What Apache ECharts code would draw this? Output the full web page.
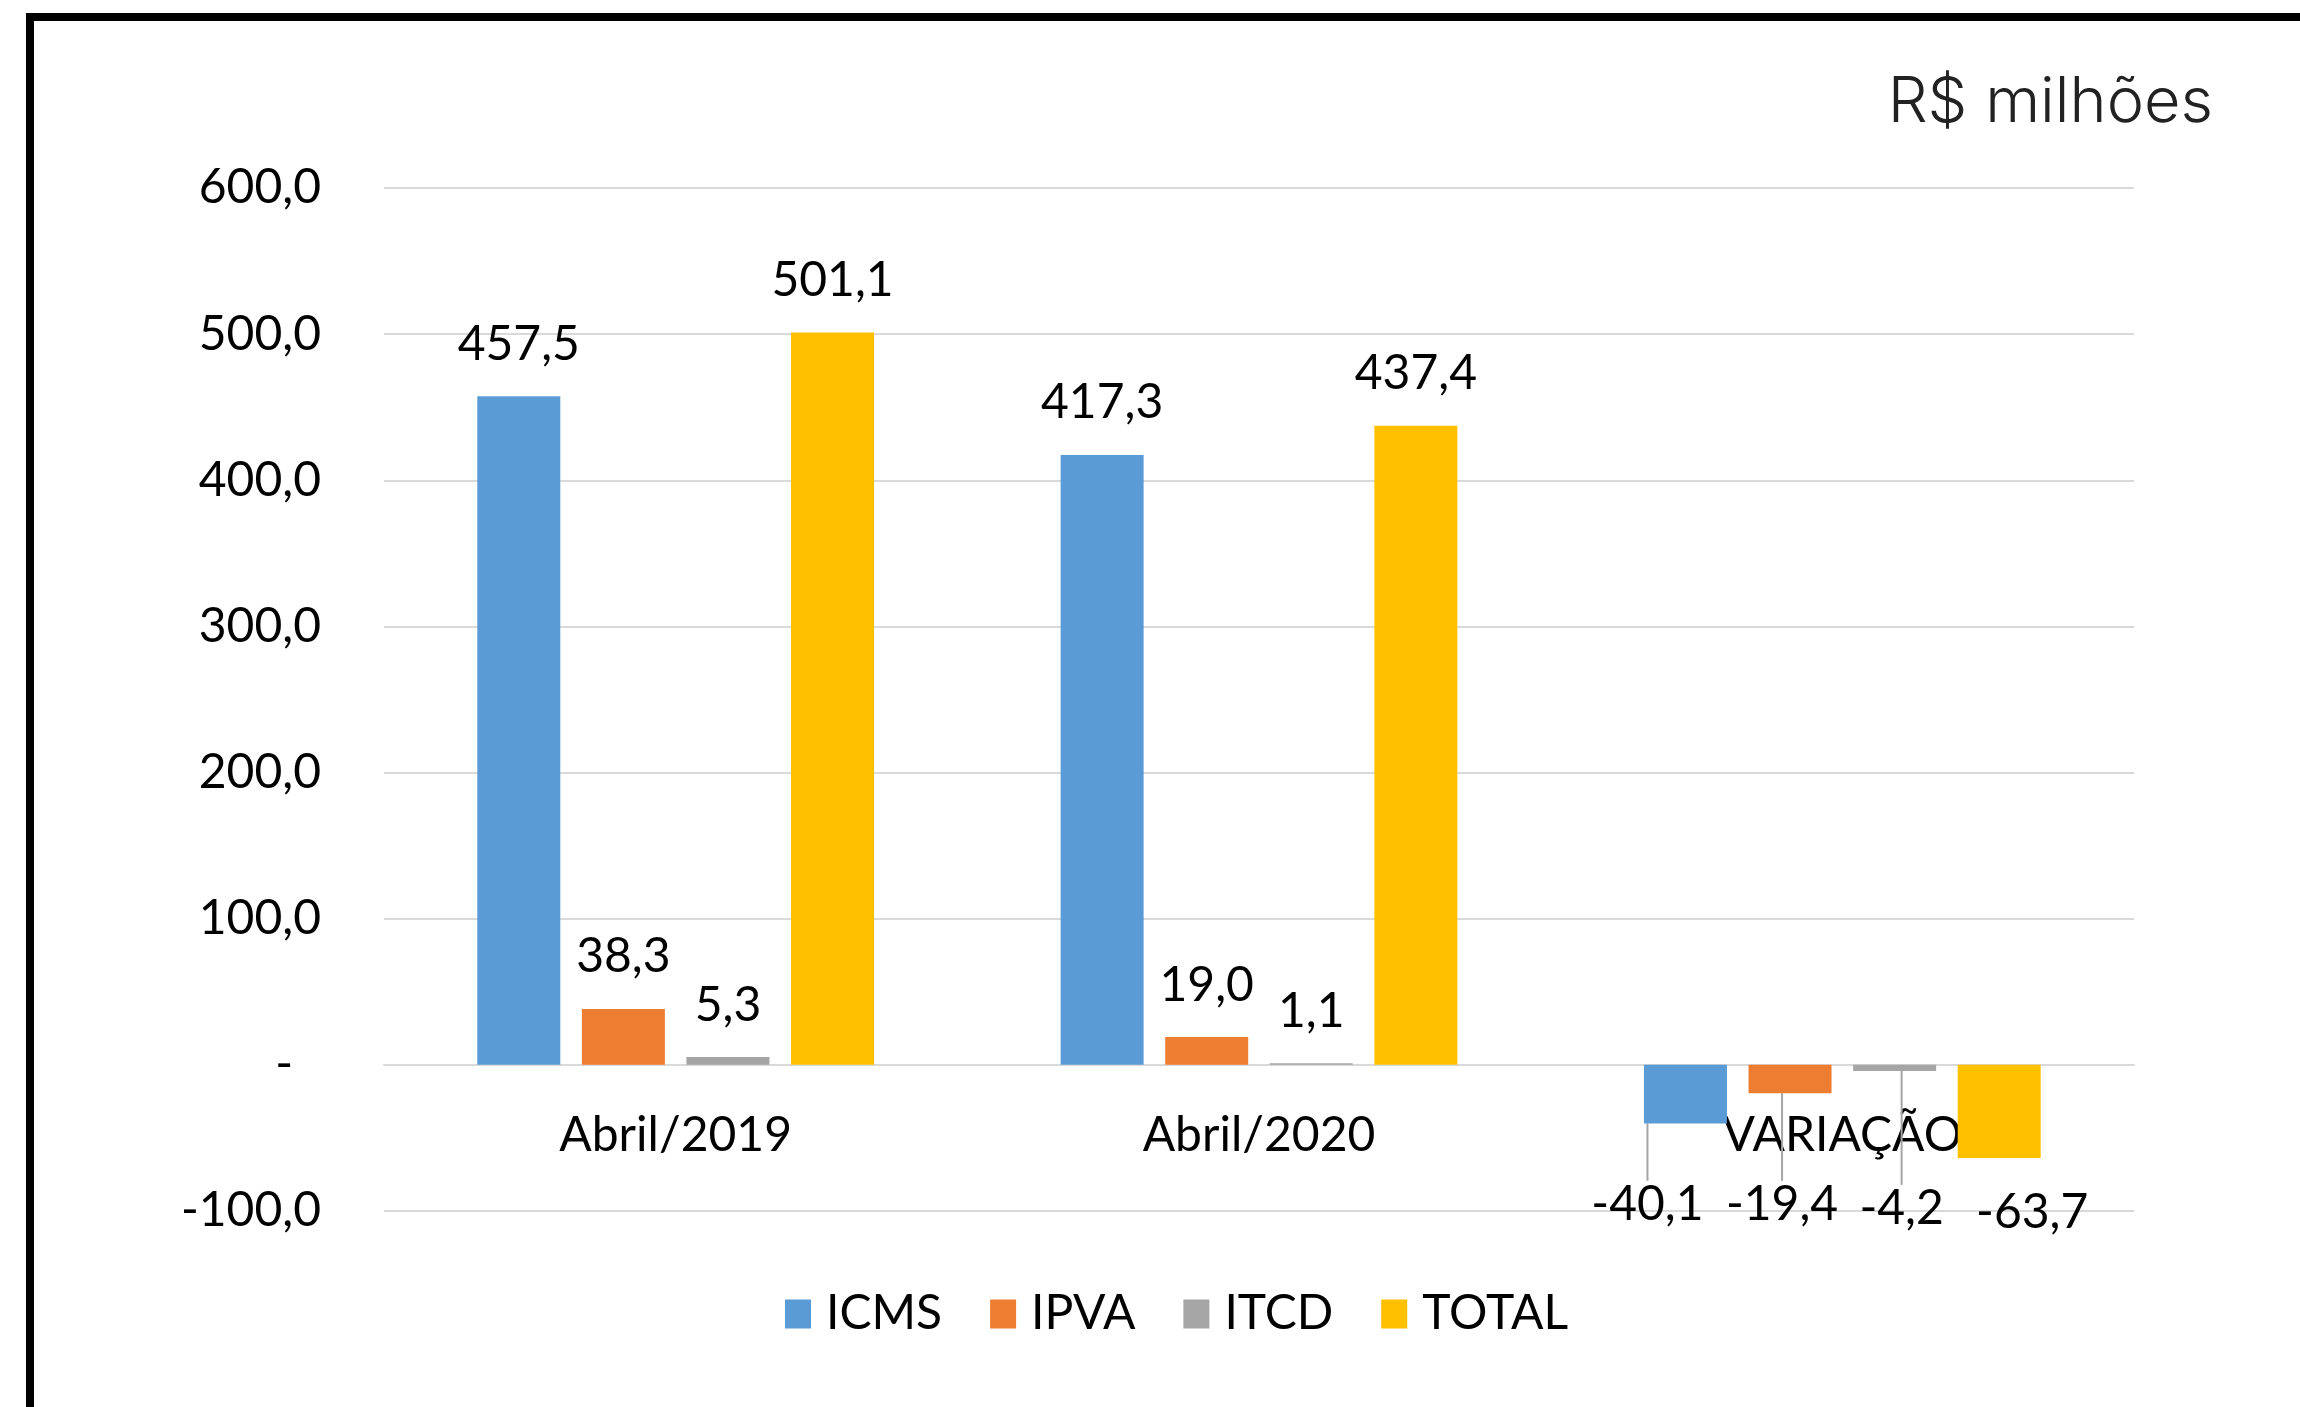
<!DOCTYPE html>
<html>
<head>
<meta charset="utf-8">
<script src="https://cdn.jsdelivr.net/npm/echarts@6/dist/echarts.min.js"></script>
<style>
html, body { margin: 0; padding: 0; background: #fff; }
#chart { width: 2300px; height: 1407px; }
</style>
</head>
<body>
<div id="chart"></div>
<script>
// categorias e valores (R$ milhões)
var categorias = ['Abril/2019', 'Abril/2020', 'VARIAÇÃO']
var icms = [457.5, 417.3, -40.1]
var ipva = [38.3, 19.0, -19.4]
var itcd = [5.3, 1.1, -4.2]
var total = [501.1, 437.4, -63.7]
var nomes = ['ICMS', 'IPVA', 'ITCD', 'TOTAL']
var cores = ['#5B9BD5', '#ED7D31', '#A5A5A5', '#FFC000']
var yMin = -100
var yMax = 600

var fonte = 'Lato'
var fmt = function(v) {
    return v.toFixed(1).replace('.', ',')
}

var grid = { left: 384, right: 166, top: 188, bottom: 196 }
var gridH = 1407 - grid.top - grid.bottom
// eixo das categorias sobre a linha do zero
var offsetZero = -gridH * (0 - yMin) / (yMax - yMin)

// deslocamento dos rótulos negativos (a partir da linha do zero)
var desloc = [
    { dx: -38, dy: 140, linha: true },
    { dx: -8, dy: 140, linha: true },
    { dx: 7, dy: 144, linha: true },
    { dx: 33, dy: 148, linha: false }
]

function montaSerie(nome, valores, i) {
    return {
        name: nome,
        type: 'bar',
        barWidth: 83,
        barGap: '26%',
        itemStyle: { color: cores[i] },
        label: {
            show: true,
            position: 'top',
            distance: 28,
            color: '#000',
            fontFamily: fonte,
            fontSize: 48,
            formatter: function(p) { return fmt(p.value) }
        },
        labelLine: { show: false },
        labelLayout: function(params) {
            if (params.dataIndex !== 2) return null
            return {
                x: params.rect.x + params.rect.width / 2 + desloc[i].dx,
                y: params.rect.y + desloc[i].dy,
                align: 'center',
                verticalAlign: 'middle'
            }
        },
        data: valores.map(function(v) {
            if (v >= 0) return v
            return {
                value: v,
                label: { position: 'bottom' },
                labelLine: {
                    show: desloc[i].linha,
                    lineStyle: { color: '#A5A5A5', width: 2 }
                }
            }
        })
    }
}

var series = [icms, ipva, itcd, total].map(function(vals, i) {
    return montaSerie(nomes[i], vals, i)
})

var option = {
    backgroundColor: '#fff',
    animation: false,
    title: {
        text: 'R$ milhões',
        right: 82,
        top: 67,
        textStyle: {
            fontFamily: 'Inter',
            fontWeight: 300,
            fontSize: 63,
            color: '#222'
        }
    },
    legend: {
        left: 780,
        top: 1285,
        icon: 'rect',
        itemWidth: 26,
        itemHeight: 29,
        itemGap: 48,
        textStyle: {
            fontFamily: fonte,
            fontSize: 48,
            color: '#000',
            padding: [0, 0, 0, 10]
        },
        data: nomes
    },
    grid: {
        left: grid.left,
        right: grid.right,
        top: grid.top,
        bottom: grid.bottom,
        containLabel: false
    },
    xAxis: {
        type: 'category',
        data: categorias,
        offset: offsetZero,
        axisTick: { show: false },
        axisLine: {
            onZero: false,
            lineStyle: { color: '#D9D9D9', width: 2 }
        },
        axisLabel: {
            margin: 47,
            color: '#000',
            fontFamily: fonte,
            fontSize: 48
        }
    },
    yAxis: {
        type: 'value',
        min: yMin,
        max: yMax,
        interval: 100,
        axisLine: { show: false },
        axisTick: { show: false },
        splitLine: { lineStyle: { color: '#D9D9D9', width: 2 } },
        axisLabel: {
            margin: 63,
            color: '#000',
            fontFamily: fonte,
            fontSize: 48,
            formatter: function(v) {
                return v === 0 ? '-\u2007' : fmt(v)
            }
        }
    },
    graphic: [{
        type: 'rect',
        shape: { x: 30, y: 17, width: 2400, height: 1500 },
        style: { fill: null, stroke: '#000', lineWidth: 8 },
        silent: true,
        z: 100
    }],
    series: series
}

var myChart = echarts.init(document.getElementById('chart'))
myChart.setOption(option)
</script>
</body>
</html>
